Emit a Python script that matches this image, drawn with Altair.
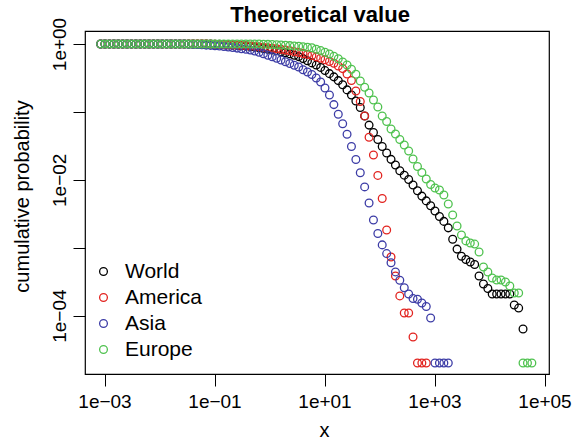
import altair as alt
import pandas as pd

# Evaluation points shared by all regions
x_values = [
    8.51e-4, 1.02e-3, 1.23e-3, 1.48e-3, 1.78e-3, 2.14e-3, 2.57e-3, 3.09e-3, 3.72e-3, 4.47e-3,
    5.37e-3, 6.46e-3, 7.76e-3, 9.33e-3, 1.12e-2, 1.35e-2, 1.62e-2, 1.95e-2, 2.34e-2, 2.82e-2,
    3.39e-2, 4.07e-2, 4.90e-2, 5.89e-2, 7.08e-2, 8.51e-2, 0.102, 0.123, 0.148, 0.178,
    0.214, 0.257, 0.309, 0.372, 0.447, 0.537, 0.646, 0.776, 0.933, 1.12,
    1.35, 1.62, 1.95, 2.34, 2.82, 3.39, 4.07, 4.90, 5.89, 7.08,
    8.51, 10.2, 12.3, 14.8, 17.8, 21.4, 25.7, 30.9, 37.2, 44.7,
    53.7, 64.6, 77.6, 93.3, 112, 135, 162, 195, 234, 282,
    339, 407, 490, 589, 708, 851, 1020, 1230, 1480, 1780,
    2140, 2570, 3090, 3720, 4470, 5370, 6460, 7760, 9330, 11200,
    13500, 16200, 19500, 23400, 28200, 33900, 40700, 49000, 58900,
]

world = [
    1.0, 1.0, 1.0, 1.0, 1.0, 1.0, 1.0, 1.0, 1.0, 1.0,
    1.0, 1.0, 1.0, 1.0, 1.0, 1.0, 1.0, 1.0, 1.0, 1.0,
    1.0, 1.0, 1.0, 1.0, 1.0, 1.0, 0.993, 0.987, 0.980, 0.973,
    0.963, 0.953, 0.944, 0.931, 0.919, 0.900, 0.879, 0.858, 0.838, 0.816,
    0.794, 0.770, 0.742, 0.715, 0.684, 0.652, 0.609, 0.568, 0.527, 0.489,
    0.452, 0.406, 0.366, 0.328, 0.289, 0.251, 0.211, 0.177, 0.145, 0.116,
    0.0870, 0.0639, 0.0497, 0.0391, 0.0310, 0.0248, 0.0200, 0.0165, 0.0136, 0.0117,
    0.0101, 0.00838, 0.00689, 0.00575, 0.00489, 0.00414, 0.00347, 0.00288, 0.00244, 0.00196,
    0.00133, 9.53e-4, 7.50e-4, 6.70e-4, 6.15e-4, 5.66e-4, 3.83e-4, 2.92e-4, 2.51e-4, 2.08e-4,
    2.08e-4, 2.08e-4, 2.08e-4, 2.08e-4, 1.43e-4, 1.29e-4, 6.35e-5,
]

america = [
    1.0, 1.0, 1.0, 1.0, 1.0, 1.0, 1.0, 1.0, 1.0, 1.0,
    1.0, 1.0, 1.0, 1.0, 1.0, 1.0, 1.0, 1.0, 1.0, 1.0,
    1.0, 1.0, 1.0, 1.0, 1.0, 0.993, 0.990, 0.983, 0.977, 0.970,
    0.963, 0.957, 0.950, 0.941, 0.934, 0.922, 0.909, 0.897, 0.882, 0.867,
    0.850, 0.833, 0.813, 0.794, 0.770, 0.747, 0.722, 0.700, 0.677, 0.646,
    0.616, 0.585, 0.552, 0.520, 0.474, 0.434, 0.362, 0.290, 0.203, 0.142,
    0.0873, 0.0424, 0.0232, 0.0116, 0.00531, 0.00182, 7.29e-4, 3.83e-4, 1.95e-4, 1.09e-4,
    1.09e-4, 4.84e-5, 2.0e-5, 2.0e-5, 2.0e-5,
]

asia = [
    1.0, 1.0, 1.0, 1.0, 1.0, 1.0, 1.0, 1.0, 1.0, 1.0,
    1.0, 1.0, 1.0, 1.0, 1.0, 1.0, 1.0, 1.0, 1.0, 1.0,
    0.993, 0.987, 0.980, 0.973, 0.963, 0.953, 0.944, 0.934, 0.919, 0.903,
    0.888, 0.870, 0.853, 0.835, 0.816, 0.789, 0.757, 0.720, 0.684, 0.648,
    0.616, 0.581, 0.547, 0.516, 0.487, 0.458, 0.418, 0.387, 0.355, 0.316,
    0.276, 0.225, 0.177, 0.128, 0.0925, 0.0668, 0.0468, 0.0310, 0.0199, 0.0127,
    0.00786, 0.00455, 0.00256, 0.00162, 0.00110, 8.19e-4, 6.01e-4, 4.40e-4, 3.31e-4, 2.57e-4,
    2.08e-4, 1.78e-4, 1.74e-4, 1.53e-4, 1.36e-4, 9.22e-5, 2.0e-5, 2.0e-5, 2.0e-5, 2.0e-5,
]

europe = [
    1.0, 1.0, 1.0, 1.0, 1.0, 1.0, 1.0, 1.0, 1.0, 1.0,
    1.0, 1.0, 1.0, 1.0, 1.0, 1.0, 1.0, 1.0, 1.0, 1.0,
    1.0, 1.0, 1.0, 1.0, 1.0, 1.0, 1.0, 1.0, 1.0, 1.0,
    1.0, 1.0, 1.0, 1.0, 1.0, 1.0, 1.0, 0.993, 0.987, 0.980,
    0.973, 0.967, 0.957, 0.947, 0.937, 0.928, 0.912, 0.897, 0.879, 0.838,
    0.800, 0.755, 0.712, 0.659, 0.605, 0.545, 0.491, 0.424, 0.359, 0.285,
    0.231, 0.190, 0.150, 0.118, 0.0871, 0.0722, 0.0560, 0.0473, 0.0392, 0.0326,
    0.0266, 0.0202, 0.0157, 0.0128, 0.0103, 0.00853, 0.00757, 0.00708, 0.00597, 0.00440,
    0.00303, 0.00209, 0.00154, 0.00126, 0.00117, 0.00113, 8.64e-4, 5.20e-4, 4.38e-4, 3.58e-4,
    3.34e-4, 3.34e-4, 3.13e-4, 2.73e-4, 2.15e-4, 2.15e-4, 2.0e-5, 2.0e-5, 2.0e-5,
]

regions = ["World", "America", "Asia", "Europe"]
region_colors = ["#000000", "#E2231F", "#3C3CA6", "#4FC24F"]

x_tick_values = [1e-3, 1e-1, 1e1, 1e3, 1e5]
x_tick_labels = ["1e\u221203", "1e\u221201", "1e+01", "1e+03", "1e+05"]
y_tick_values = [1e-4, 1e-3, 1e-2, 1e-1, 1.0]
y_tick_labels = ["1e\u221204", "", "1e\u221202", "", "1e+00"]

plot_title = "Theoretical value"

FONT = "Liberation Sans"


def label_expr(values, labels):
    expr = "''"
    for v, lab in reversed(list(zip(values, labels))):
        expr = f"datum.value == {v!r} ? '{lab}' : ({expr})"
    return expr


rows = []
for name, ys in zip(regions, [world, america, asia, europe]):
    for xv, yv in zip(x_values, ys):
        rows.append({"x": xv, "p": yv, "region": name})
df = pd.DataFrame(rows)

x_axis = alt.Axis(
    values=x_tick_values,
    labelExpr=label_expr(x_tick_values, x_tick_labels),
    domain=False, grid=False,
    tickSize=12, tickColor="black", tickWidth=1,
    labelFont=FONT, labelFontSize=19, labelColor="black",
    labelBaseline="alphabetic", labelPadding=21,
    labelOverlap=False, labelFlush=False,
    title="x", titleFont=FONT, titleFontSize=20, titleFontWeight="normal",
    titleColor="black", titleBaseline="alphabetic", titleX=239, titleY=62,
    titleAlign="center",
)

y_axis = alt.Axis(
    values=y_tick_values,
    labelExpr=label_expr(y_tick_values, y_tick_labels),
    domain=False, grid=False,
    tickSize=12, tickColor="black", tickWidth=1,
    labelFont=FONT, labelFontSize=19, labelColor="black",
    labelAngle=270, labelAlign="center", labelBaseline="alphabetic",
    labelPadding=8, labelOverlap=False, labelFlush=False,
    title="cumulative probability", titleFont=FONT, titleFontSize=20,
    titleFontWeight="normal", titleColor="black", titleAngle=270,
    titleAlign="center", titleBaseline="alphabetic", titleX=-57, titleY=165,
)

points = (
    alt.Chart(df)
    .mark_point(shape="circle", filled=False, size=60, strokeWidth=1.3, opacity=1)
    .encode(
        x=alt.X("x:Q", scale=alt.Scale(type="log", domain=[4.42e-4, 1.207e5], nice=False), axis=x_axis),
        y=alt.Y("p:Q", scale=alt.Scale(type="log", domain=[1.38e-5, 1.554], nice=False), axis=y_axis),
        color=alt.Color(
            "region:N",
            scale=alt.Scale(domain=regions, range=region_colors),
            legend=alt.Legend(
                orient="none", legendX=8, legendY=230, title=None,
                labelFont=FONT, labelFontSize=21, labelColor="black",
                symbolType="circle", symbolSize=60, symbolStrokeWidth=1.3,
                labelOffset=11, rowPadding=4, padding=0,
            ),
        ),
    )
)

# Bold heading centred above the plotting frame
heading = (
    alt.Chart(pd.DataFrame({"label": [plot_title]}))
    .mark_text(font=FONT, fontSize=22, fontWeight="bold", color="black",
               align="center", baseline="alphabetic")
    .encode(text="label:N", x=alt.value(235), y=alt.value(-9))
)

chart = (
    alt.layer(points, heading)
    .properties(
        width=464,
        height=343,
        padding={"left": 85, "top": 31, "right": 28, "bottom": 68},
        autosize=alt.AutoSizeParams(type="none"),
    )
    .configure(background="white")
    .configure_view(stroke="black", strokeWidth=1.2)
)

chart.save("out.html", embed_options={"renderer": "svg", "actions": False})
